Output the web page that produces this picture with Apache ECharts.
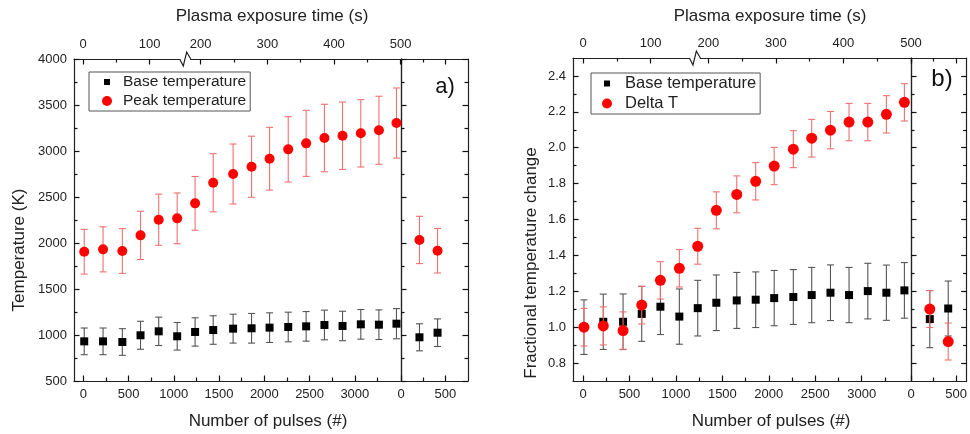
<!DOCTYPE html>
<html><head><meta charset="utf-8">
<script src="https://cdn.jsdelivr.net/npm/echarts@6/dist/echarts.min.js"></script>
<style>html,body{margin:0;padding:0;background:#fff}#c{width:970px;height:434px}</style>
</head><body><div id="c"></div>
<script>
// ---------------- data ----------------
const pulses = [10, 218, 431, 632, 833, 1037, 1235, 1435, 1655, 1859, 2058, 2264, 2462, 2664, 2864, 3066, 3266, 3460];
const pulsesLater = [208, 412];

const baseTempK    = [931, 931, 924, 997, 1040, 986, 1033, 1054, 1069, 1073, 1080, 1087, 1094, 1109, 1098, 1116, 1112, 1123];
const baseTempKErr = [145, 145, 145, 152, 154, 150, 154, 155, 157, 161, 161, 161, 161, 161, 160, 161, 161, 164];
const peakTempK    = [1905, 1931, 1913, 2083, 2253, 2268, 2431, 2655, 2750, 2829, 2916, 3018, 3083, 3141, 3166, 3192, 3225, 3304];
const peakTempKErr = [243, 245, 243, 262, 278, 276, 292, 316, 326, 332, 341, 355, 359, 367, 366, 366, 370, 381];
const baseTempKLater    = [975, 1025];
const baseTempKLaterErr = [147, 150];
const peakTempKLater    = [2033, 1916];
const peakTempKLaterErr = [257, 242];

const baseFrac    = [1.000, 1.030, 1.030, 1.074, 1.114, 1.059, 1.106, 1.136, 1.149, 1.153, 1.162, 1.168, 1.179, 1.192, 1.179, 1.201, 1.192, 1.205];
const baseFracErr = [0.152, 0.154, 0.155, 0.153, 0.155, 0.154, 0.155, 0.155, 0.156, 0.155, 0.154, 0.153, 0.154, 0.155, 0.154, 0.155, 0.154, 0.155];
const deltaT      = [1.000, 1.007, 0.981, 1.123, 1.261, 1.328, 1.451, 1.651, 1.740, 1.813, 1.898, 1.992, 2.053, 2.098, 2.143, 2.143, 2.186, 2.253];
const deltaTErr   = [0.105, 0.106, 0.104, 0.105, 0.104, 0.104, 0.100, 0.103, 0.103, 0.104, 0.104, 0.103, 0.105, 0.104, 0.104, 0.104, 0.104, 0.104];
const baseFracLater    = [1.045, 1.104];
const baseFracLaterErr = [0.159, 0.153];
const deltaTLater      = [1.101, 0.920];
const deltaTLaterErr   = [0.103, 0.103];

// tick values
const pulseTicks = [0, 500, 1000, 1500, 2000, 2500, 3000];
const pulseMinorTicks = [250, 750, 1250, 1750, 2250, 2750, 3250];
const laterPulseTicks = [0, 500];
const laterPulseMinorTicks = [250];
const timeTicks = [0, 100, 200, 300, 400, 500];
const timeMinorTicks = [50, 250, 350, 450];
const tempTicks = [500, 1000, 1500, 2000, 2500, 3000, 3500, 4000];
const tempMinorTicks = [750, 1250, 1750, 2250, 2750, 3250, 3750];
const fracTicks = [0.8, 1.0, 1.2, 1.4, 1.6, 1.8, 2.0, 2.2, 2.4];
const fracMinorTicks = [0.9, 1.1, 1.3, 1.5, 1.7, 1.9, 2.1, 2.3];

// ---------------- chart ----------------
const FONT = "'Liberation Sans', Arial, sans-serif";
const INK = '#222';
const SQ = 'path://M0 0M10 10M2 2L8 2L8 8L2 8Z';

const grids = [], xAxes = [], yAxes = [], series = [], graphics = [];

function tickAxis(list, base, vals, len) {
  list.push(Object.assign({ type: 'value' }, base, {
    axisLine: { show: false, onZero: false },
    axisTick: { show: true, inside: true, length: len, customValues: vals, lineStyle: { color: '#111', width: 1.2 } },
    axisLabel: { show: false }, splitLine: { show: false }
  }));
}

function mkAxis(list, base, major, minor, o) {
  list.push(Object.assign({ type: 'value' }, base, {
    axisLine: { show: o.line, onZero: false, lineStyle: { color: INK, width: 1.2 } },
    axisTick: { show: false },
    axisLabel: o.labels ? { show: true, customValues: major, showMinLabel: true, showMaxLabel: true, hideOverlap: false,
      margin: o.margin || 8, color: INK, fontSize: 13, fontFamily: FONT, formatter: o.fmt } : { show: false },
    splitLine: { show: false }
  }));
  const idx = list.length - 1;
  if (major.length) tickAxis(list, base, major, 5.5);
  if (minor.length) tickAxis(list, base, minor, 3.5);
  return idx;
}

function errRender(color, cap) {
  return function (params, api) {
    const x = api.value(0), y = api.value(1), e = api.value(2);
    const hi = api.coord([x, y + e]), lo = api.coord([x, y - e]);
    const h = cap / 2, st = { stroke: color, lineWidth: 1.1 };
    return { type: 'group', children: [
      { type: 'line', shape: { x1: hi[0], y1: hi[1], x2: lo[0], y2: lo[1] }, style: st },
      { type: 'line', shape: { x1: hi[0] - h, y1: hi[1], x2: hi[0] + h, y2: hi[1] }, style: st },
      { type: 'line', shape: { x1: lo[0] - h, y1: lo[1], x2: lo[0] + h, y2: lo[1] }, style: st }
    ] };
  };
}

function addSet(xi, yi, xs, ys, es, st, z) {
  series.push({ type: 'custom', xAxisIndex: xi, yAxisIndex: yi, z: z, clip: false, silent: true,
    encode: { x: 0, y: 1 }, data: xs.map((x, i) => [x, ys[i], es[i]]), renderItem: errRender(st.bar, 7) });
  series.push({ type: 'scatter', name: st.name, xAxisIndex: xi, yAxisIndex: yi, z: z + 1, silent: true,
    symbol: st.symbol, symbolSize: st.size, itemStyle: { color: st.color, opacity: 1 },
    data: xs.map((x, i) => [x, ys[i]]) });
}

function buildPanel(p) {
  const gM = grids.length; grids.push(p.grid);
  const gS = grids.length; grids.push(p.sub);
  const tv = t => (t < p.breakSec ? t : t - p.timeShift);
  const tLab = {};
  timeTicks.forEach(t => { tLab[tv(t).toFixed(3)] = String(t); });

  const xb = mkAxis(xAxes, { gridIndex: gM, position: 'bottom', min: p.xMain[0], max: p.xMain[1] }, pulseTicks, pulseMinorTicks,
    { line: true, labels: true, margin: 7, fmt: v => String(v) });
  const xt = mkAxis(xAxes, { gridIndex: gM, position: 'top', min: p.time[0], max: p.time[1] }, timeTicks.map(tv), timeMinorTicks.map(tv),
    { line: true, labels: true, margin: 8, fmt: v => (tLab[Number(v).toFixed(3)] || '') });
  const xsb = mkAxis(xAxes, { gridIndex: gS, position: 'bottom', min: p.xSub[0], max: p.xSub[1] }, laterPulseTicks, laterPulseMinorTicks,
    { line: true, labels: true, margin: 7, fmt: v => String(v) });
  mkAxis(xAxes, { gridIndex: gS, position: 'top', min: p.xSub[0], max: p.xSub[1] }, laterPulseTicks, laterPulseMinorTicks,
    { line: true, labels: false });

  const yl = mkAxis(yAxes, { gridIndex: gM, position: 'left', min: p.y[0], max: p.y[1] }, p.yMajor, p.yMinor,
    { line: true, labels: true, margin: 7, fmt: p.yFmt });
  mkAxis(yAxes, { gridIndex: gM, position: 'right', min: p.y[0], max: p.y[1] }, [], [], { line: true, labels: false });
  const ysl = mkAxis(yAxes, { gridIndex: gS, position: 'left', min: p.y[0], max: p.y[1] }, p.yMajor, p.yMinor, { line: true, labels: false });
  mkAxis(yAxes, { gridIndex: gS, position: 'right', min: p.y[0], max: p.y[1] }, p.yMajor, p.yMinor, { line: true, labels: false });

  let z = 2;
  p.sets.forEach(s => {
    addSet(xb, yl, pulses, s.main, s.mainErr, s, z);
    addSet(xsb, ysl, pulsesLater, s.later, s.laterErr, s, z);
    z += 2;
  });

  // axis-break mark on the top (time) axis
  series.push({ type: 'custom', xAxisIndex: xt, yAxisIndex: yl, z: 20, clip: false, silent: true,
    data: [[p.breakMark, p.y[1]]],
    renderItem: (params, api) => {
      const c = api.coord([api.value(0), api.value(1)]);
      return { type: 'group', children: [
        { type: 'rect', shape: { x: c[0] - 6.5, y: c[1] - 1.5, width: 10, height: 3 }, style: { fill: '#fff' } },
        { type: 'polyline', shape: { points: [[c[0] - 7, c[1]], [c[0] - 3.4, c[1] + 7], [c[0], c[1] - 7], [c[0] + 4, c[1]]] },
          style: { stroke: INK, lineWidth: 1.2, fill: null } }
      ] };
    } });
}

const BLACK = { name: 'Base temperature', symbol: 'rect', size: 8, color: '#000', bar: '#555' };

buildPanel({
  grid: { left: 74, top: 59, width: 327, height: 322 },
  sub: { left: 401, top: 59, width: 67, height: 322 },
  xMain: [-103, 3510], xSub: [0, 755],
  time: [-13.5, 477], breakSec: 150, timeShift: 23.5, breakMark: 155.5,
  y: [500, 4000], yMajor: tempTicks, yMinor: tempMinorTicks, yFmt: v => String(v),
  sets: [
    Object.assign({}, BLACK, { main: baseTempK, mainErr: baseTempKErr, later: baseTempKLater, laterErr: baseTempKLaterErr }),
    { name: 'Peak temperature', symbol: 'circle', size: 10, color: '#ff0000', bar: '#f07070',
      main: peakTempK, mainErr: peakTempKErr, later: peakTempKLater, laterErr: peakTempKLaterErr }
  ]
});

buildPanel({
  grid: { left: 573, top: 58, width: 338, height: 323 },
  sub: { left: 911, top: 58, width: 56, height: 323 },
  xMain: [-108, 3531], xSub: [0, 616],
  time: [-14.8, 485.5], breakSec: 150, timeShift: 14.5, breakMark: 167.8,
  y: [0.7, 2.5], yMajor: fracTicks, yMinor: fracMinorTicks, yFmt: v => Number(v).toFixed(1),
  sets: [
    Object.assign({}, BLACK, { main: baseFrac, mainErr: baseFracErr, later: baseFracLater, laterErr: baseFracLaterErr }),
    { name: 'Delta T', symbol: 'circle', size: 11, color: '#ff0000', bar: '#f07070',
      main: deltaT, mainErr: deltaTErr, later: deltaTLater, laterErr: deltaTLaterErr }
  ]
});

function title(text, x, y, rot) {
  graphics.push({ type: 'text', x: x, y: y, rotation: rot || 0, silent: true,
    style: { text: text, fontSize: 17, fontFamily: FONT, fill: INK, align: 'center', verticalAlign: 'middle' } });
}
title('Plasma exposure time (s)', 272, 16);
title('Plasma exposure time (s)', 770, 16);
title('Number of pulses (#)', 268, 421);
title('Number of pulses (#)', 771, 421);
title('Temperature (K)', 19, 250, Math.PI / 2);
title('Fractional temperature change', 531, 263, Math.PI / 2);
graphics.push({ type: 'text', x: 445, y: 87, silent: true,
  style: { text: 'a)', fontSize: 22, fontFamily: FONT, fill: '#111', align: 'center', verticalAlign: 'middle' } });
graphics.push({ type: 'text', x: 942, y: 79, silent: true,
  style: { text: 'b)', fontSize: 24, fontFamily: FONT, fill: '#111', align: 'center', verticalAlign: 'middle' } });

const legendBase = {
  orient: 'vertical', selectedMode: false, backgroundColor: '#fff',
  borderColor: '#555', borderWidth: 1, itemHeight: 10
};

const chart = echarts.init(document.getElementById('c'));
chart.setOption({
  animation: false,
  backgroundColor: '#fff',
  grid: grids,
  xAxis: xAxes,
  yAxis: yAxes,
  legend: [
    Object.assign({}, legendBase, { left: 89, top: 72, itemWidth: 22, itemGap: 3, padding: [2, 4, 2, 13],
      textStyle: { fontSize: 15.5, fontFamily: FONT, color: INK, lineHeight: 16 },
      data: [{ name: 'Base temperature', icon: SQ }, { name: 'Peak temperature', icon: 'circle' }] }),
    Object.assign({}, legendBase, { left: 591, top: 73, itemWidth: 26, itemGap: 3, padding: [2, 4, 2, 11],
      textStyle: { fontSize: 16.5, fontFamily: FONT, color: INK, lineHeight: 17 },
      data: [{ name: 'Base temperature', icon: SQ }, { name: 'Delta T', icon: 'circle' }] })
  ],
  graphic: graphics,
  series: series
});
</script>
</body></html>
